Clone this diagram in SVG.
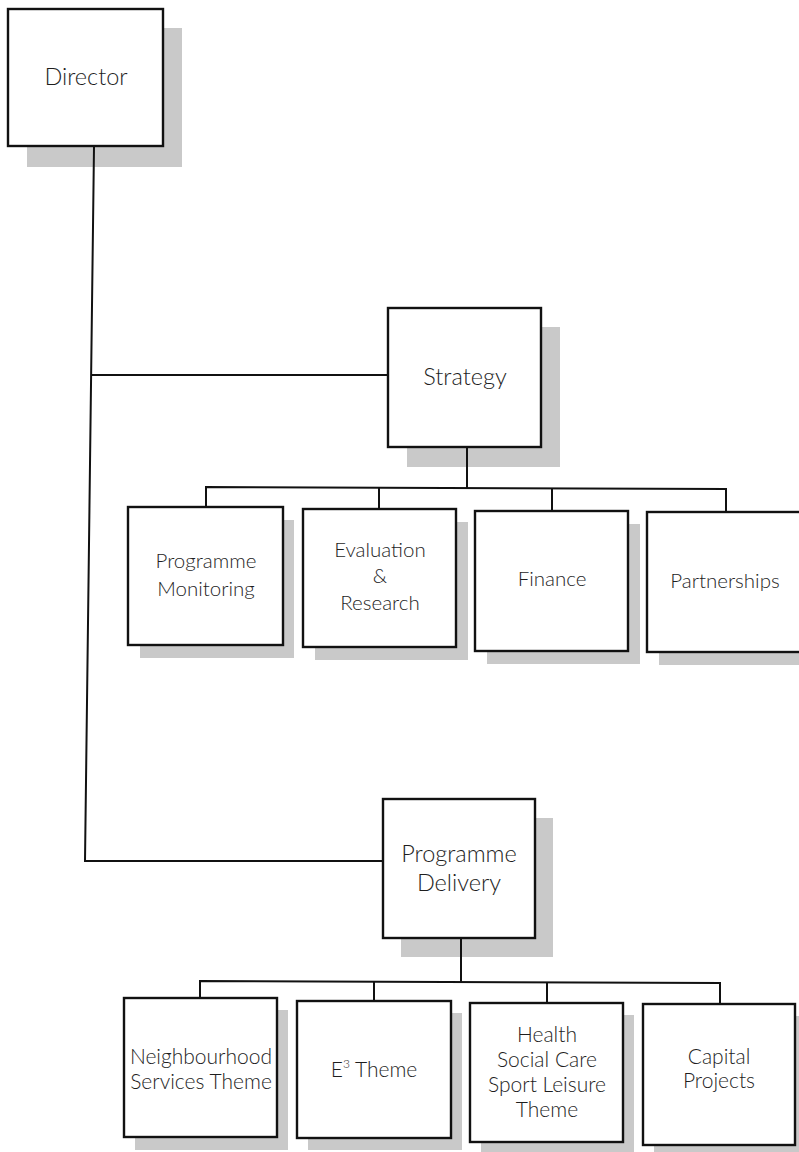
<svg xmlns="http://www.w3.org/2000/svg" width="799" height="1152" viewBox="0 0 799 1152">
<style>
.bg{fill:#ffffff}
.shadow{fill:#c9c9c9;stroke:none}
.box{fill:#ffffff;stroke:#111111;stroke-width:2.4}
.conn{fill:none;stroke:#111111;stroke-width:2}
.t{font-family:Lato,"Open Sans","Liberation Sans",sans-serif;font-weight:300;font-size:20.5px;fill:#1e1e1e;text-anchor:middle}
.big{font-size:23.5px}
.bot{font-size:21px}
</style>
<rect class="bg" x="0" y="0" width="799" height="1152"/>
<g id="director">
<rect class="shadow" x="27" y="28" width="155" height="139"/>
<rect class="box" x="8" y="9" width="155" height="137"/>
<text class="t big" x="86" y="85">Director</text>
</g>
<g id="strategy">
<rect class="shadow" x="407" y="327" width="153" height="140"/>
<rect class="box" x="388" y="308" width="153" height="139"/>
<text class="t big" x="465" y="385">Strategy</text>
</g>
<g id="programme-monitoring">
<rect class="shadow" x="140" y="520" width="154" height="138"/>
<rect class="box" x="128" y="507" width="155" height="138"/>
<text class="t" x="206" y="568">Programme</text>
<text class="t" x="206" y="596">Monitoring</text>
</g>
<g id="evaluation-research">
<rect class="shadow" x="315" y="522" width="153" height="138"/>
<rect class="box" x="303" y="509" width="153" height="138"/>
<text class="t" x="380" y="557">Evaluation</text>
<text class="t" x="380" y="583">&amp;</text>
<text class="t" x="380" y="610">Research</text>
</g>
<g id="finance">
<rect class="shadow" x="487" y="524" width="153" height="140"/>
<rect class="box" x="475" y="511" width="153" height="140"/>
<text class="t" x="552" y="586">Finance</text>
</g>
<g id="partnerships">
<rect class="shadow" x="659" y="525" width="155" height="140"/>
<rect class="box" x="647" y="512" width="155" height="140"/>
<text class="t" x="725" y="588">Partnerships</text>
</g>
<g id="programme-delivery">
<rect class="shadow" x="401" y="818" width="152" height="139"/>
<rect class="box" x="383" y="799" width="152" height="139"/>
<text class="t big" x="459" y="862">Programme</text>
<text class="t big" x="459" y="891">Delivery</text>
</g>
<g id="neighbourhood">
<rect class="shadow" x="135" y="1010" width="153" height="140"/>
<rect class="box" x="124" y="998" width="153" height="139"/>
<text class="t bot" x="201" y="1064">Neighbourhood</text>
<text class="t bot" x="201" y="1089">Services Theme</text>
</g>
<g id="e3-theme">
<rect class="shadow" x="308" y="1013" width="154" height="137"/>
<rect class="box" x="297" y="1001" width="154" height="137"/>
<text class="t bot" x="374" y="1077">E<tspan font-size="12" dy="-9">3</tspan><tspan dy="9"> Theme</tspan></text>
</g>
<g id="health">
<rect class="shadow" x="481" y="1015" width="153" height="137"/>
<rect class="box" x="470" y="1003" width="153" height="139"/>
<text class="t bot" x="547" y="1042">Health</text>
<text class="t bot" x="547" y="1067">Social Care</text>
<text class="t bot" x="547" y="1092">Sport Leisure</text>
<text class="t bot" x="547" y="1117">Theme</text>
</g>
<g id="capital-projects">
<rect class="shadow" x="654" y="1016" width="152" height="136"/>
<rect class="box" x="643" y="1004" width="152" height="141"/>
<text class="t bot" x="719" y="1064">Capital</text>
<text class="t bot" x="719" y="1088">Projects</text>
</g>
<g id="connectors">
<polyline class="conn" points="94,147 85,861 382,861"/>
<line class="conn" x1="91" y1="375" x2="387" y2="375"/>
<line class="conn" x1="467" y1="448" x2="467" y2="488"/>
<polyline class="conn" points="206,506 206,487 726,489 726,511"/>
<line class="conn" x1="379" y1="488" x2="379" y2="508"/>
<line class="conn" x1="552" y1="488" x2="552" y2="510"/>
<line class="conn" x1="461" y1="939" x2="461" y2="982"/>
<polyline class="conn" points="200,997 200,981 720,983 720,1003"/>
<line class="conn" x1="374" y1="982" x2="374" y2="1000"/>
<line class="conn" x1="547" y1="983" x2="547" y2="1002"/>
</g>
</svg>
